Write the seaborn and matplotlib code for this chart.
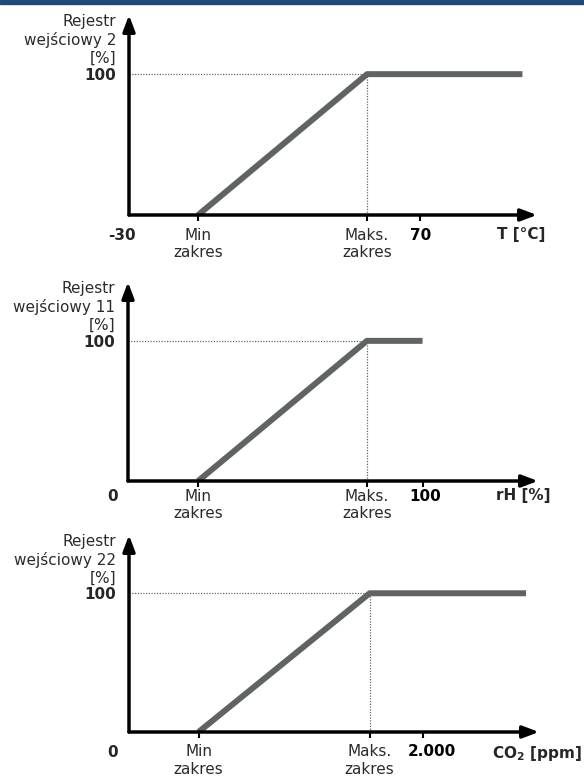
import matplotlib
matplotlib.use('Agg')
import matplotlib.pyplot as plt
import seaborn as sns
from matplotlib.patches import Rectangle
from matplotlib.transforms import ScaledTranslation

# dane (jednostki osi X kazdego panelu)
y_labels = ['Rejestr\nwejściowy 2\n[%]', 'Rejestr\nwejściowy 11\n[%]', 'Rejestr\nwejściowy 22\n[%]']
x_labels = ['T [°C]', 'rH [%]', r'CO$_\mathbf{2}$ [ppm]']
start_labels = ['-30', '0', '0']
end_labels = ['70', '100', '2.000']
x_start = [-30, 0, 0]
min_zakres = [-6.3, 23.8, 473]
maks_zakres = [51.7, 81.1, 1637]
x_end = [105, 100, 2701]
end_tick = [70, 100, 2000]
x_tip = [110, 139.2, 2789]
y_max = 100
y_tip = 142

# uklad w pikselach: poczatek ukladu (x, y) i koniec strzalek
W, H = 584, 776
origins = [(129, 215), (128, 481), (129, 732)]
tips = [(537, 15), (538, 282), (539, 535)]
start_dx = [-7, -15, -16]
label_dx = [8, 13, 43]
label_gap = [5, 1.5, 5]
end_shift = [0, 3, 9]

LINE = '#5f6463'
TXT = '#2b2b2b'

sns.set_style('white')
plt.rcParams['font.family'] = ['DejaVu Sans']
plt.rcParams['mathtext.fontset'] = 'dejavusans'

fig = plt.figure(figsize=(W / 100, H / 100), dpi=100)
fig.add_artist(Rectangle((0, 1 - 4 / H), 1, 4 / H, transform=fig.transFigure,
                         color='#1f4a78', zorder=10))

for i in range(3):
    ox, oy = origins[i]
    tx, ty = tips[i]
    ax = fig.add_axes([ox / W, (H - oy) / H, (tx - ox) / W, (oy - ty) / H])
    ax.set_xlim(x_start[i], x_tip[i])
    ax.set_ylim(0, y_tip)
    sns.despine(ax=ax, left=True, bottom=True, top=True, right=True)
    ax.patch.set_alpha(0)

    # linia charakterystyki
    sns.lineplot(x=[min_zakres[i], maks_zakres[i], x_end[i]], y=[0, y_max, y_max],
                 ax=ax, color=LINE, lw=4.3, solid_capstyle='butt', zorder=2)

    # linie pomocnicze
    ax.plot([x_start[i], maks_zakres[i]], [y_max, y_max], color='#666666',
            lw=0.9, dashes=(1, 1.2), zorder=1)
    ax.plot([maks_zakres[i], maks_zakres[i]], [0, y_max], color='#666666',
            lw=0.9, dashes=(1, 1.2), zorder=1)

    # osie ze strzalkami
    arrow = dict(arrowstyle='-|>,head_length=0.8,head_width=0.3', mutation_scale=12,
                 lw=2.5, color='black', shrinkA=0, shrinkB=0, clip_on=False)
    ax.annotate('', xy=(x_tip[i], 0), xytext=(x_start[i], 0), arrowprops=arrow,
                annotation_clip=False, zorder=3)
    ax.annotate('', xy=(x_start[i], y_tip), xytext=(x_start[i], 0), arrowprops=arrow,
                annotation_clip=False, zorder=3)

    # znaczniki osi X
    ax.set_xticks([min_zakres[i], maks_zakres[i], end_tick[i]],
                  ['Min\nzakres', 'Maks.\nzakres', end_labels[i]])
    ax.set_xticks([maks_zakres[i]], minor=True)
    ax.tick_params(axis='x', which='major', bottom=True, direction='out', length=4,
                   width=1.5, color='black', pad=label_gap[i], labelsize=11)
    ax.tick_params(axis='x', which='minor', bottom=True, direction='in', length=4,
                   width=1.5, color='black')
    lbls = ax.get_xticklabels()
    lbls[0].set_color(TXT)
    lbls[1].set_color(TXT)
    lbls[2].set_fontweight('bold')
    lbls[2].set_color('black')
    lbls[2].set_transform(lbls[2].get_transform()
                          + ScaledTranslation(end_shift[i] / 100, 0, fig.dpi_scale_trans))

    ax.set_yticks([y_max], ['100'])
    ax.tick_params(axis='y', left=True, length=0, pad=9, labelsize=11)
    ax.get_yticklabels()[0].set_fontweight('bold')

    # opisy
    dy = -13 - (label_gap[i] - 5) * 1.39
    ax.annotate(start_labels[i], xy=(x_start[i], 0), xytext=(start_dx[i], dy),
                textcoords='offset pixels', ha='center', va='top', fontsize=11,
                fontweight='bold', annotation_clip=False)
    ax.annotate(x_labels[i], xy=(x_tip[i], 0), xytext=(label_dx[i], dy + 1),
                textcoords='offset pixels', ha='right', va='top', fontsize=11,
                fontweight='bold', annotation_clip=False)
    ax.annotate(y_labels[i], xy=(x_start[i], y_tip), xytext=(-13, 1),
                textcoords='offset pixels', ha='right', va='top', fontsize=11,
                color=TXT, linespacing=1.25, multialignment='right',
                annotation_clip=False)

fig.savefig('out.png', dpi=100)
